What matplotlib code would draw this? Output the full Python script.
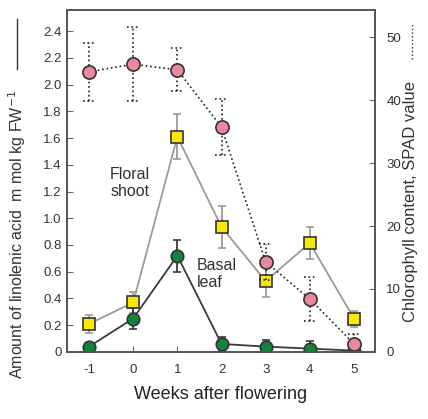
import matplotlib

matplotlib.use("Agg")
import matplotlib.pyplot as plt
from matplotlib.lines import Line2D

plt.rcParams["font.family"] = ["Liberation Sans", "DejaVu Sans"]

# ---- data --------------------------------------------------------------
WEEKS = [-1, 0, 1, 2, 3, 4, 5]
FLORAL = [0.21, 0.37, 1.61, 0.935, 0.53, 0.815, 0.25]
FLORAL_ERR = [0.07, 0.08, 0.17, 0.16, 0.12, 0.12, 0.06]
BASAL = [0.04, 0.25, 0.72, 0.06, 0.04, 0.025, 0.01]
BASAL_ERR = [0.03, 0.08, 0.12, 0.05, 0.05, 0.06, 0.03]
CHLORO = [44.5, 45.7, 44.8, 35.7, 14.3, 8.4, 1.3]
CHLORO_ERR = [4.6, 5.9, 3.4, 4.4, 2.8, 3.5, 1.5]

LEFT_TICKS = [0, 0.2, 0.4, 0.6, 0.8, 1.0, 1.2, 1.4, 1.6, 1.8, 2.0, 2.2, 2.4]
LEFT_LABELS = ["0", "0.2", "0.4", "0.6", "0.8", "1.0", "1.2", "1.4", "1.6",
               "1.8", "2.0", "2.2", "2.4"]
RIGHT_TICKS = [0, 10, 20, 30, 40, 50]

PINK, YELLOW, GREEN = "#e8879e", "#f7ea00", "#14823a"
EDGE, TXT = "#333333", "#333333"

fig = plt.figure(figsize=(4.28, 4.19), dpi=100)
ax = fig.add_axes([0.1565, 0.16, 0.72, 0.816])
ax2 = ax.twinx()

# floral shoot
ax.errorbar(WEEKS, FLORAL, yerr=FLORAL_ERR, color="#9a9a9a", lw=1.3,
            elinewidth=1.3, capsize=3, capthick=1.3, zorder=2,
            marker="s", ms=8.5, mfc=YELLOW, mec=EDGE, mew=1.2)
# basal leaf
ax.errorbar(WEEKS, BASAL, yerr=BASAL_ERR, color="#3a3a3a", lw=1.3,
            elinewidth=1.3, capsize=3, capthick=1.3, zorder=3,
            marker="o", ms=9, mfc=GREEN, mec=EDGE, mew=1.2)
# chlorophyll (right axis), dotted bars and dotted caps
eb = ax2.errorbar(WEEKS, CHLORO, yerr=CHLORO_ERR, color="#222222", lw=1.2,
                  ls=":", elinewidth=1.2, capsize=0,
                  marker="o", ms=9.5, mfc=PINK, mec=EDGE, mew=1.2)
for c in eb[2]:
    c.set_linestyle(":")
lo = [v - e for v, e in zip(CHLORO, CHLORO_ERR)]
hi = [v + e for v, e in zip(CHLORO, CHLORO_ERR)]
xl = [w - 0.14 for w in WEEKS]
xr = [w + 0.14 for w in WEEKS]
ax2.hlines(lo + hi, xl + xl, xr + xr, colors="#222222", lw=1.2, linestyles=":")

ax.set_xlim(-1.5, 5.48)
ax.set_ylim(0, 2.557)
ax2.set_ylim(0, 54.3)
ax.set_xticks(WEEKS)
ax.set_xticklabels([str(w) for w in WEEKS])
ax.set_yticks(LEFT_TICKS)
ax.set_yticklabels(LEFT_LABELS)
ax2.set_yticks(RIGHT_TICKS)

for a in (ax, ax2):
    a.tick_params(direction="in", length=4, width=0.8, colors="#666666",
                  labelcolor=TXT, labelsize=9.5)
    for s in a.spines.values():
        s.set_color("#555555")
        s.set_linewidth(1.2)
ax.tick_params(axis="x", pad=9)
ax2.tick_params(axis="y", pad=8)
ax.tick_params(axis="y", pad=4)

ax.set_xlabel("Weeks after flowering", fontsize=13, color="#222222", labelpad=7)

ax.text(-0.52, 1.38, "Floral\nshoot", fontsize=11.5, color="#333333",
        ha="left", va="top", linespacing=1.1)
ax.text(1.45, 0.70, "Basal\nleaf", fontsize=11.5, color="#333333",
        ha="left", va="top", linespacing=1.1)

fig.text(0.04, 0.44, "Amount of linolenic acid  m mol kg FW$^{-1}$",
         rotation=90, ha="center", va="center", fontsize=11.5, color="#333333")
fig.text(0.958, 0.52, "Chlorophyll content, SPAD value",
         rotation=90, ha="center", va="center", fontsize=12, color="#333333")

# line-style keys beside the axis titles
fig.add_artist(Line2D([0.04, 0.04], [0.835, 0.955], color="#333333", lw=1.0))
fig.add_artist(Line2D([0.962, 0.962], [0.86, 0.945], color="#333333", lw=1.0,
                      ls=":"))

fig.savefig("out.png", dpi=100, facecolor="white")
